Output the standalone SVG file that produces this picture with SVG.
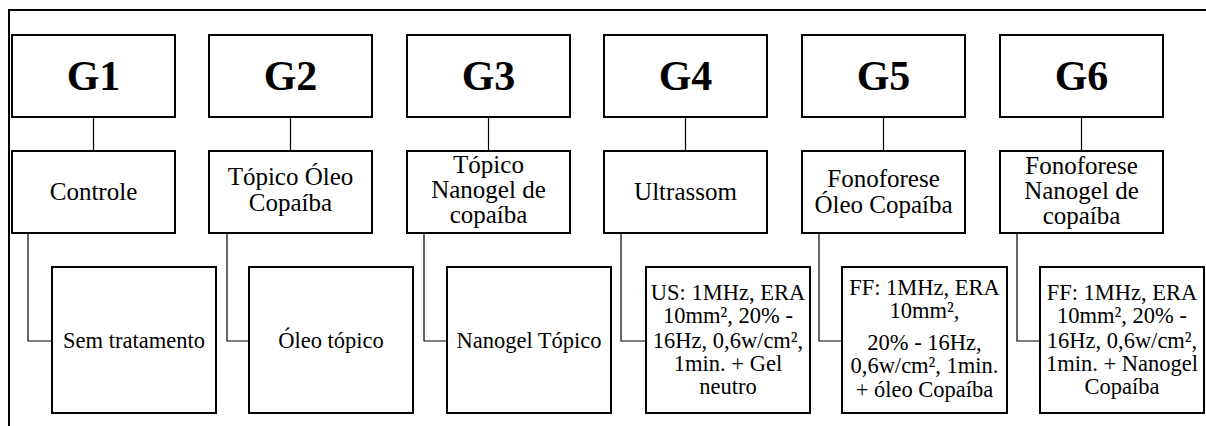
<svg xmlns="http://www.w3.org/2000/svg" width="1206" height="426" viewBox="0 0 1206 426">
<style>
.box{fill:#fff;stroke:#000;stroke-width:2}
.frame{fill:none;stroke:#000;stroke-width:2}
.conn{fill:none;stroke:#000;stroke-width:1.2}
text{font-family:'Liberation Serif','Times New Roman',Tinos,'DejaVu Serif','Noto Serif',serif;fill:#000;text-anchor:middle}
.g{font-weight:bold;font-size:42px}
.t2{font-size:25px}
.t3{font-size:22.5px}
</style>
<rect width="1206" height="426" fill="#fff"/>
<path class="frame" d="M9,426 V10 H1206"/>
<g id="connectors">
<path class="conn" d="M93.5,117 V151"/>
<path class="conn" d="M290.5,117 V151"/>
<path class="conn" d="M488.5,117 V151"/>
<path class="conn" d="M685.5,117 V151"/>
<path class="conn" d="M883.5,117 V151"/>
<path class="conn" d="M1081.5,117 V151"/>
<path class="conn" d="M28,233 V341 H52"/>
<path class="conn" d="M227,233 V341 H249"/>
<path class="conn" d="M424,233 V341 H447"/>
<path class="conn" d="M621,233 V341 H646"/>
<path class="conn" d="M819,233 V341 H842"/>
<path class="conn" d="M1017,233 V341 H1040"/>
</g>
<g id="G1"><rect class="box" x="12" y="35" width="163" height="82"/><text class="g" x="93.5" y="90" font-family="Liberation Serif, serif">G1</text></g>
<g id="G2"><rect class="box" x="209" y="35" width="163" height="82"/><text class="g" x="290.5" y="90">G2</text></g>
<g id="G3"><rect class="box" x="407" y="35" width="163" height="82"/><text class="g" x="488.5" y="90">G3</text></g>
<g id="G4"><rect class="box" x="604" y="35" width="163" height="82"/><text class="g" x="685.5" y="90">G4</text></g>
<g id="G5"><rect class="box" x="802" y="35" width="163" height="82"/><text class="g" x="883.5" y="90">G5</text></g>
<g id="G6"><rect class="box" x="1000" y="35" width="163" height="82"/><text class="g" x="1081.5" y="90">G6</text></g>

<g id="controle"><rect class="box" x="12" y="151" width="163" height="82"/><text class="t2" x="93.5" y="200">Controle</text></g>
<g id="topico-oleo"><rect class="box" x="209" y="151" width="163" height="82"/><text class="t2" x="290.5" y="185">Tópico Óleo</text><text class="t2" x="290.5" y="211">Copaíba</text></g>
<g id="topico-nanogel"><rect class="box" x="407" y="151" width="163" height="82"/><text class="t2" x="488.5" y="173">Tópico</text><text class="t2" x="488.5" y="198">Nanogel de</text><text class="t2" x="488.5" y="223">copaíba</text></g>
<g id="ultrassom"><rect class="box" x="604" y="151" width="163" height="82"/><text class="t2" x="685.5" y="200">Ultrassom</text></g>
<g id="fono-oleo"><rect class="box" x="802" y="151" width="163" height="82"/><text class="t2" x="883.5" y="187">Fonoforese</text><text class="t2" x="883.5" y="213">Óleo Copaíba</text></g>
<g id="fono-nanogel"><rect class="box" x="1000" y="151" width="163" height="82"/><text class="t2" x="1081.5" y="174">Fonoforese</text><text class="t2" x="1081.5" y="199">Nanogel de</text><text class="t2" x="1081.5" y="224">copaíba</text></g>

<g id="sem-tratamento"><rect class="box" x="52" y="267" width="164" height="146"/><text class="t3" x="134" y="348">Sem tratamento</text></g>
<g id="oleo-topico"><rect class="box" x="249" y="267" width="164" height="146"/><text class="t3" x="331" y="348">Óleo tópico</text></g>
<g id="nanogel-topico"><rect class="box" x="447" y="267" width="164" height="146"/><text class="t3" x="529" y="348">Nanogel Tópico</text></g>
<g id="us"><rect class="box" x="646" y="267" width="164" height="146"/>
<text class="t3" x="728" y="300">US: 1MHz, ERA</text>
<text class="t3" x="728" y="323">10mm², 20% -</text>
<text class="t3" x="728" y="348">16Hz, 0,6w/cm²,</text>
<text class="t3" x="728" y="371">1min. + Gel</text>
<text class="t3" x="728" y="394">neutro</text></g>
<g id="ff-oleo"><rect class="box" x="842" y="267" width="165" height="146"/>
<text class="t3" x="924.5" y="295">FF: 1MHz, ERA</text>
<text class="t3" x="924.5" y="318">10mm²,</text>
<text class="t3" x="924.5" y="350">20% - 16Hz,</text>
<text class="t3" x="924.5" y="373">0,6w/cm², 1min.</text>
<text class="t3" x="924.5" y="397">+ óleo Copaíba</text></g>
<g id="ff-nanogel"><rect class="box" x="1040" y="267" width="164" height="146"/>
<text class="t3" x="1122" y="300">FF: 1MHz, ERA</text>
<text class="t3" x="1122" y="323">10mm², 20% -</text>
<text class="t3" x="1122" y="348">16Hz, 0,6w/cm²,</text>
<text class="t3" x="1122" y="371">1min. + Nanogel</text>
<text class="t3" x="1122" y="394">Copaíba</text></g>
</svg>
